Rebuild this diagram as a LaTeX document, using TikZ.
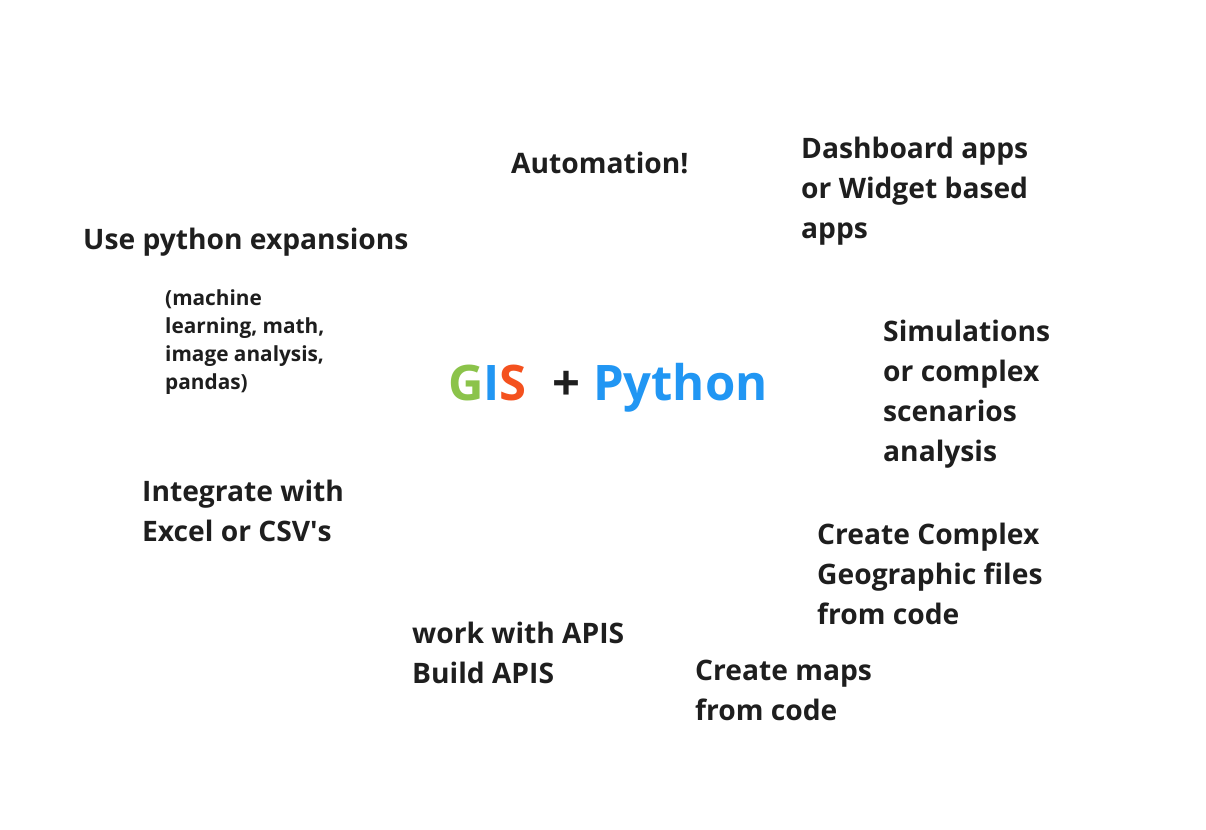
\documentclass[tikz,border=0pt]{standalone}
\usepackage{fontspec}
\setmainfont{Open Sans}
\usepackage{xcolor}
\usepackage{tikz}
\usetikzlibrary{positioning}

\definecolor{gisgreen}{HTML}{8BC34A}
\definecolor{gisblue}{HTML}{2196F3}
\definecolor{gisred}{HTML}{F4511E}
\definecolor{inkdark}{HTML}{1E1E1E}

\begin{document}
\begin{tikzpicture}[
    x=1pt, y=-1pt,
    idea/.style={
        anchor=base west,
        inner sep=0pt,
        align=left,
        text=inkdark,
        font=\fontsize{28.2}{40}\selectfont\bfseries
    },
    note/.style={
        anchor=base west,
        inner sep=0pt,
        align=left,
        text=inkdark,
        font=\fontsize{20.8}{28}\selectfont\bfseries
    },
    headline/.style={
        anchor=base west,
        inner sep=0pt,
        font=\fontsize{49}{52}\selectfont\bfseries
    }
]

% Canvas
\useasboundingbox (0,0) rectangle (1206,829);

% Centre (base west of a multi-line node = its last line)
\node[headline] (gispython) at (448,400)
    {\textcolor{gisgreen}{G}\textcolor{gisblue}{I}\textcolor{gisred}{S}\ \ \textcolor{inkdark}{+}\ \textcolor{gisblue}{Python}};

% Ideas around it
\node[idea] (automation) at (511,174) {Automation!};
\node[idea] (dashboard) at (801,238) {Dashboard apps\\or Widget based\\apps};
\node[idea] (expansions) at (83,249) {Use python expansions};
\node[note] (examples) at (165,389) {(machine\\learning, math,\\image analysis,\\pandas)};
\node[idea] (simulations) at (883,461) {Simulations\\or complex\\scenarios\\analysis};
\node[idea] (excel) at (142,541) {Integrate with\\Excel or CSV\textquotesingle s};
\node[idea] (geofiles) at (817,624) {Create Complex\\Geographic files\\from code};
\node[idea] (apis) at (412,683) {work with APIS\\Build APIS};
\node[idea] (maps) at (695,720) {Create maps\\from code};
\end{tikzpicture}
\end{document}
